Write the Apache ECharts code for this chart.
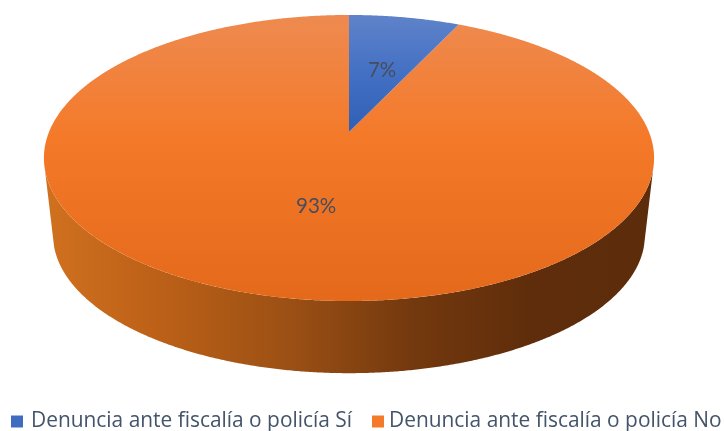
<!DOCTYPE html>
<html>
<head>
<meta charset="utf-8">
<style>html,body{margin:0;padding:0;background:#fff}#c{width:724px;height:431px}</style>
<script src="https://cdn.jsdelivr.net/npm/echarts@6/dist/echarts.min.js"></script>
</head>
<body>
<div id="c"></div>
<script>
var categories = ['Denuncia ante fiscalía o policía Sí', 'Denuncia ante fiscalía o policía No'];
var values = [7, 93];
var total = values[0] + values[1];
var TEXT = '#44546a';
var LABEL = '#474d5c';

// Perspective projection of the disc's top and bottom faces
var K = 0.1818;
var TOP = {cx: 349, cy: 132, a: 300, b: 138.3};
var BOTTOM = {cx: 349, cy: 210, a: 291, b: 133.5};
var WALL_FROM = 105, WALL_TO = 255;

function project(face, deg, r) {
  var t = deg * Math.PI / 180;
  var X = r * Math.sin(t), Y = r * Math.cos(t), d = 1 + K * Y;
  return [face.cx + face.a * X / d, face.cy - face.b * Y / d];
}
function arc(face, from, to) {
  var pts = [], n = Math.max(2, Math.ceil(Math.abs(to - from) * 3));
  for (var i = 0; i <= n; i++) pts.push(project(face, from + (to - from) * i / n, 1));
  return pts;
}
function grad(x2, y2, stops) {
  return new echarts.graphic.LinearGradient(0, 0, x2, y2, stops.map(function (s) {
    return {offset: s[0], color: s[1]};
  }));
}
var topFills = [
  function () { return grad(0, 1, [[0, '#5f83ca'], [0.5, '#4370c3'], [1, '#2f5fb6']]); },
  function () { return grad(0, 1, [[0, '#ee8a50'], [0.42, '#f47a2a'], [1, '#e4691a']]); }
];
function wallFill() {
  return grad(1, 0, [[0, '#d0711f'], [0.18, '#bd6118'], [0.4, '#9c5014'], [0.6, '#74390e'], [0.8, '#5f2d0b'], [1, '#5c2c0b']]);
}
function makeItem(idx) {
  return function () {
    var start = 0;
    for (var i = 0; i < idx; i++) start += values[i] / total * 360;
    var end = start + values[idx] / total * 360;
    var children = [];
    var from = Math.max(start, WALL_FROM), to = Math.min(end, WALL_TO);
    if (to > from) {
      children.push({
        type: 'polygon',
        shape: {points: arc(TOP, from, to).concat(arc(BOTTOM, to, from))},
        style: {fill: wallFill()}
      });
    }
    children.push({
      type: 'polygon',
      shape: {points: [project(TOP, 0, 0)].concat(arc(TOP, start, end))},
      style: {fill: topFills[idx]()}
    });
    var lp = project(TOP, (start + end) / 2, 0.5);
    children.push({
      type: 'text',
      z2: 10,
      style: {
        x: lp[0] + 3, y: lp[1],
        text: Math.round(values[idx] / total * 100) + '%',
        fill: LABEL, font: '20.5px Lato', align: 'center', verticalAlign: 'middle'
      }
    });
    return {type: 'group', children: children};
  };
}
var legendColors = ['#3f6cc0', '#f47a2a'];
var chart = echarts.init(document.getElementById('c'), null, {renderer: 'canvas'});
chart.setOption({
  animation: false,
  backgroundColor: '#fff',
  legend: [0, 1].map(function (i) {
    return {
      data: [{name: categories[i], icon: 'rect', itemStyle: {color: legendColors[i]}}],
      left: [11, 372][i], top: 411, padding: 0,
      itemWidth: 12, itemHeight: 12, selectedMode: false,
      textStyle: {color: TEXT, fontFamily: 'Open Sans', fontSize: 20.9, padding: [0, 0, 0, [3, 0][i]]}
    };
  }),
  series: [1, 0].map(function (i) {
    return {
      type: 'custom',
      name: categories[i],
      coordinateSystem: 'none',
      silent: true,
      z: i === 1 ? 1 : 2,
      itemStyle: {color: legendColors[i]},
      data: [values[i]],
      renderItem: makeItem(i)
    };
  })
});
</script>
</body>
</html>
